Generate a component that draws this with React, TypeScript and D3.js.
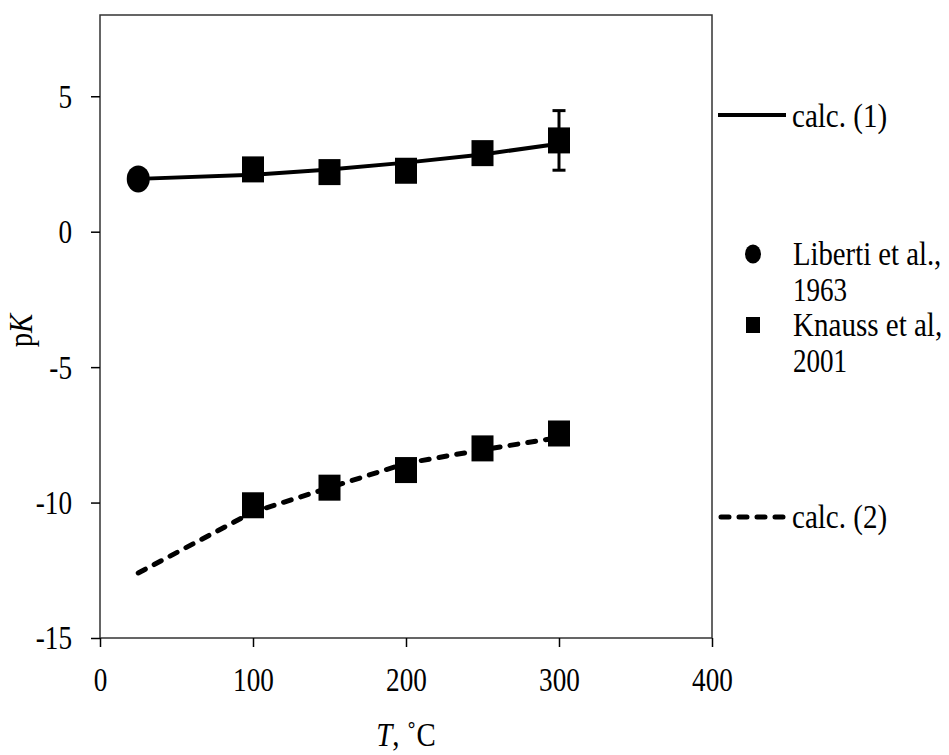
import * as d3 from "d3";
import { useEffect, useRef } from "react";

// data
const libertiT = [25];
const libertiPK = [1.95];

const knaussT = [100, 150, 200, 250, 300];
const knaussUpper = [2.3, 2.2, 2.25, 2.9, 3.37];
const knaussUpperErr = [0, 0, 0, 0, 1.1];
const knaussLower = [-10.1, -9.45, -8.8, -8.0, -7.45];

const calcT = [25, 100, 150, 200, 250, 300];
const calc1 = [1.95, 2.1, 2.3, 2.55, 2.85, 3.25];
const calc2 = [-12.6, -10.35, -9.45, -8.55, -8.05, -7.6];

const xTicks = [0, 100, 200, 300, 400];
const yTicks = [5, 0, -5, -10, -15];

const FONT = "'Liberation Serif', 'Times New Roman', serif";

// the reference text is narrow and tall, squeeze glyphs horizontally
const squeeze = (sel, factor) => {
    sel.each(function () {
        const len = this.getComputedTextLength();
        d3.select(this)
            .attr("textLength", len * factor)
            .attr("lengthAdjust", "spacingAndGlyphs");
    });
};

const App = () => {
    const chartRef = useRef(null);

    useEffect(() => {
        const svg = d3.select(chartRef.current);
        svg.selectAll("*").remove();

        const margin = { top: 15, left: 100, right: 237, bottom: 117 };
        const width = 949;
        const height = 755;
        const boundsWidth = width - margin.left - margin.right;
        const boundsHeight = height - margin.top - margin.bottom;

        const scaleX = d3.scaleLinear().domain([0, 400]).range([0, boundsWidth]);
        const scaleY = d3.scaleLinear().domain([-15, 8]).range([boundsHeight, 0]);

        const g = svg.append("g")
            .attr("transform", `translate(${margin.left}, ${margin.top})`);

        // frame
        g.append("rect")
            .attr("x", 0)
            .attr("y", 0)
            .attr("width", boundsWidth)
            .attr("height", boundsHeight)
            .style("fill", "none")
            .style("stroke", "#333")
            .style("stroke-width", 1.5);

        const xAxis = g.append("g")
            .attr("transform", `translate(0, ${boundsHeight})`)
            .call(d3.axisBottom(scaleX).tickValues(xTicks).tickSize(9).tickPadding(20).tickFormat(d => String(d)));
        const yAxis = g.append("g")
            .call(d3.axisLeft(scaleY).tickValues(yTicks).tickSize(9).tickPadding(19).tickFormat(d => String(d)));

        [xAxis, yAxis].forEach(ax => {
            ax.select(".domain").remove();
            ax.selectAll("line").style("stroke", "#000").style("stroke-width", 1.5);
            ax.selectAll("text")
                .style("font-family", FONT)
                .style("font-size", "34px")
                .style("fill", "#000")
                .call(squeeze, 0.8);
        });

        // calc lines
        const line = d3.line()
            .x(d => scaleX(d[0]))
            .y(d => scaleY(d[1]));

        g.append("path")
            .datum(calcT.map((t, i) => [t, calc1[i]]))
            .attr("d", line)
            .style("fill", "none")
            .style("stroke", "#000")
            .style("stroke-width", 4);

        g.append("path")
            .datum(calcT.map((t, i) => [t, calc2[i]]))
            .attr("d", line)
            .style("fill", "none")
            .style("stroke", "#000")
            .style("stroke-width", 5)
            .style("stroke-linecap", "round")
            .style("stroke-dasharray", "8 10");

        // error bars
        knaussT.forEach((t, i) => {
            const e = knaussUpperErr[i];
            if (!e) return;
            const x = scaleX(t);
            const y1 = scaleY(knaussUpper[i] + e);
            const y2 = scaleY(knaussUpper[i] - e);
            g.append("line").attr("x1", x).attr("x2", x).attr("y1", y1).attr("y2", y2)
                .style("stroke", "#000").style("stroke-width", 3);
            [y1, y2].forEach(y => {
                g.append("line").attr("x1", x - 6.5).attr("x2", x + 6.5).attr("y1", y).attr("y2", y)
                    .style("stroke", "#000").style("stroke-width", 3);
            });
        });

        // squares
        const sqW = 22;
        const sqH = 26;
        [knaussUpper, knaussLower].forEach(vals => {
            g.selectAll(null)
                .data(knaussT.map((t, i) => [t, vals[i]]))
                .enter()
                .append("rect")
                .attr("x", d => scaleX(d[0]) - sqW / 2)
                .attr("y", d => scaleY(d[1]) - sqH / 2)
                .attr("width", sqW)
                .attr("height", sqH)
                .style("fill", "#000");
        });

        // circle
        g.selectAll(null)
            .data(libertiT.map((t, i) => [t, libertiPK[i]]))
            .enter()
            .append("ellipse")
            .attr("cx", d => scaleX(d[0]))
            .attr("cy", d => scaleY(d[1]))
            .attr("rx", 11.5)
            .attr("ry", 13.5)
            .style("fill", "#000");

        // axis titles
        const yTitle = svg.append("text")
            .attr("transform", `translate(32, ${margin.top + boundsHeight / 2 + 4}) rotate(-90)`)
            .attr("text-anchor", "middle")
            .style("font-family", FONT)
            .style("font-size", "34px");
        yTitle.append("tspan").text("p");
        yTitle.append("tspan").style("font-style", "italic").text("K");
        yTitle.call(squeeze, 0.85);

        const xTitle = svg.append("text")
            .attr("x", margin.left + boundsWidth / 2)
            .attr("y", 746)
            .attr("text-anchor", "middle")
            .style("font-family", FONT)
            .style("font-size", "34px");
        xTitle.append("tspan").style("font-style", "italic").text("T");
        xTitle.append("tspan").text(", ˚C");
        xTitle.call(squeeze, 0.85);

        // legend
        const lg = svg.append("g");
        const textStyle = sel => sel
            .style("font-family", FONT)
            .style("font-size", "33px")
            .style("fill", "#000");

        lg.append("line").attr("x1", 718).attr("x2", 786).attr("y1", 115).attr("y2", 115)
            .style("stroke", "#000").style("stroke-width", 4);
        lg.append("text").attr("x", 792).attr("y", 127).text("calc. (1)").call(textStyle).call(squeeze, 0.88);

        lg.append("ellipse").attr("cx", 753).attr("cy", 254).attr("rx", 8).attr("ry", 9.5).style("fill", "#000");
        lg.append("text").attr("x", 793).attr("y", 265).text("Liberti et al.,").call(textStyle).call(squeeze, 0.87);
        lg.append("text").attr("x", 793).attr("y", 301).text("1963").call(textStyle).call(squeeze, 0.82);

        lg.append("rect").attr("x", 746).attr("y", 317).attr("width", 14).attr("height", 16).style("fill", "#000");
        lg.append("text").attr("x", 793).attr("y", 336).text("Knauss et al,").call(textStyle).call(squeeze, 0.88);
        lg.append("text").attr("x", 793).attr("y", 372).text("2001").call(textStyle).call(squeeze, 0.82);

        lg.append("line").attr("x1", 721).attr("x2", 786).attr("y1", 517).attr("y2", 517)
            .style("stroke", "#000").style("stroke-width", 5)
            .style("stroke-linecap", "round").style("stroke-dasharray", "8 10");
        lg.append("text").attr("x", 792).attr("y", 528).text("calc. (2)").call(textStyle).call(squeeze, 0.88);
    }, []);

    return (
        <svg ref={chartRef} width={949} height={755}
            style={{ position: "absolute", left: 0, top: 0, background: "#fff" }}></svg>
    );
};

export default App;
